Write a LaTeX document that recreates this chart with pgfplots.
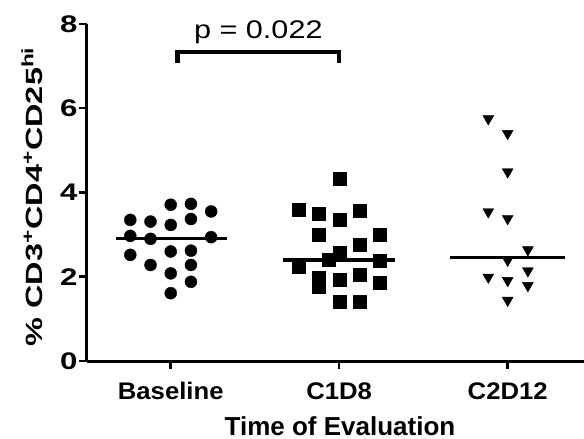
\documentclass[border=0pt]{standalone}
\usepackage{fontspec}
\setmainfont{Liberation Sans}
\usepackage{graphicx}
\usepackage{pgfplots}
\pgfplotsset{compat=1.18}
\begin{document}
\begin{tikzpicture}
\begin{axis}[
  scale only axis, width=497pt, height=337pt, at={(0,0)}, anchor=south west,
  xmin=0.503, xmax=3.453, ymin=0, ymax=8,
  axis lines*=left,
  axis line style={line width=3pt, black},
  xtick={1,2,3},
  xticklabels={\scalebox{1.07}[1]{Baseline},\scalebox{1.07}[1]{C1D8},\scalebox{1.07}[1]{C2D12}},
  ytick={0,2,4,6,8},
  yticklabel={\scalebox{1.3}[1]{\pgfmathprintnumber{\tick}}},
  tick align=outside, major tick length=8pt,
  tick style={line width=2.5pt, black},
  /pgf/number format/assume math mode=true,
  ticklabel style={font=\fontsize{24}{28}\selectfont\bfseries},
  xticklabel style={anchor=base, yshift=-30pt},
  yticklabel style={anchor=east, xshift=2pt},
  xlabel={Time of Evaluation},
  xlabel style={font=\fontsize{26}{30}\selectfont\bfseries, at={(axis description cs:0.509,-0.2196)}, anchor=base},
  ylabel={\scalebox{1.38}[1]{\% CD3\textsuperscript{+}CD4\textsuperscript{+}CD25\textsuperscript{hi}}},
  ylabel style={font=\fontsize{23.5}{28}\selectfont\bfseries, at={(axis description cs:-0.0899,0.4875)}, anchor=base},
  clip=false,
]
% Baseline
\addplot[only marks, mark=*, mark size=6pt, black] coordinates {
(1.00,3.71) (1.12,3.73) (1.24,3.55)
(0.76,3.35) (0.88,3.31) (1.00,3.23) (1.12,3.37)
(0.76,2.97) (0.88,2.90) (1.24,2.94)
(0.76,2.52) (1.00,2.60) (1.12,2.62)
(0.88,2.28) (1.12,2.28)
(1.00,2.08) (1.12,1.88)
(1.00,1.61)
};
% C1D8
\addplot[only marks, mark=square*, mark size=6.5pt, black] coordinates {
(2.00,4.32) (1.76,3.59) (1.88,3.49) (2.00,3.35) (2.12,3.56)
(1.88,3.01) (2.24,3.01) (2.12,2.76) (2.00,2.58) (1.94,2.41)
(2.24,2.38) (1.76,2.25) (1.88,1.98) (1.88,1.76) (2.00,1.92)
(2.12,2.06) (2.24,1.85) (2.00,1.41) (2.12,1.41)
};
% C2D12
\addplot[only marks, mark=triangle*, mark size=6.3pt, mark options={rotate=180}, black] coordinates {
(2.885,5.75) (3.00,5.40) (3.00,4.49) (2.885,3.54) (3.00,3.38)
(3.12,2.64) (3.00,2.39) (2.885,1.99) (3.00,1.91) (3.12,2.14)
(3.12,1.79) (3.00,1.44)
};
% medians
\addplot[line width=3.3pt, black] coordinates {(0.676,2.91) (1.335,2.91)};
\addplot[line width=3.3pt, black] coordinates {(1.668,2.40) (2.330,2.40)};
\addplot[line width=3.3pt, black] coordinates {(2.660,2.46) (3.340,2.46)};
% bracket
\addplot[line width=4.5pt, black, line join=miter] coordinates {(1.04,7.07) (1.04,7.33) (2.00,7.33) (2.00,7.07)};
\node[anchor=base, font=\fontsize{25.5}{30}\selectfont, inner sep=0pt] at (axis cs:1.52,7.65) {\scalebox{1.2}[1]{p = 0.022}};
\end{axis}
\pgfresetboundingbox
\path (-87pt,-78pt) rectangle (497pt,361pt);
\end{tikzpicture}
\end{document}
